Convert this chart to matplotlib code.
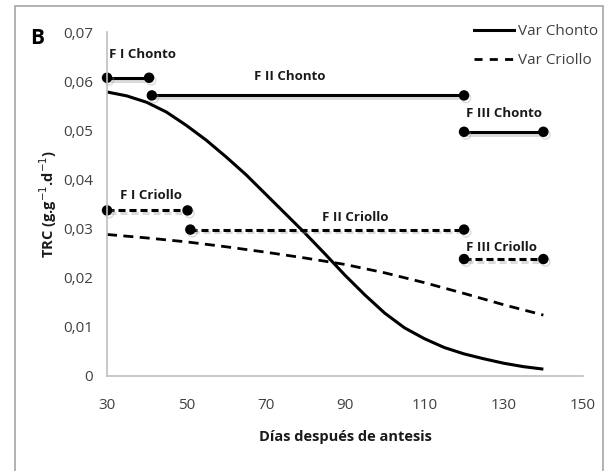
import matplotlib
matplotlib.use("Agg")
import matplotlib.pyplot as plt
import matplotlib.patheffects as pe
from matplotlib.lines import Line2D
from matplotlib.patches import Rectangle

# curves (days after anthesis vs TRC)
dias = [30, 35, 40, 45, 50, 55, 60, 65, 70, 75, 80, 85, 90, 95, 100,
        105, 110, 115, 120, 125, 130, 135, 140]
chonto = [0.0578, 0.0570, 0.0557, 0.0537, 0.0510, 0.0480, 0.0446, 0.0410,
          0.0370, 0.0330, 0.0290, 0.0248, 0.0205, 0.0165, 0.0128, 0.0098,
          0.0076, 0.0058, 0.0045, 0.0035, 0.0026, 0.0019, 0.0014]
dias_cr = [30, 40, 50, 60, 70, 80, 90, 100, 110, 120, 130, 140]
criollo = [0.0288, 0.0281, 0.0273, 0.0263, 0.0252, 0.0240, 0.0227, 0.0210,
           0.0190, 0.0168, 0.0145, 0.0124]

# phases: (label, start, end, y)
fases_chonto = [("F I Chonto", 30, 40.6, 0.0607),
                ("F II Chonto", 41.3, 120, 0.0571),
                ("F III Chonto", 120, 140, 0.0497)]
fases_criollo = [("F I Criollo", 30, 50.3, 0.0337),
                 ("F II Criollo", 51, 120, 0.0298),
                 ("F III Criollo", 120, 140, 0.0238)]
# label positions (x, y)
pos_chonto = [(39, 0.0655), (76, 0.0610), (130, 0.0535)]
pos_criollo = [(41, 0.0367), (92.5, 0.0323), (129.5, 0.0262)]

xticks = [30, 50, 70, 90, 110, 130, 150]
yticks = [0, 0.01, 0.02, 0.03, 0.04, 0.05, 0.06, 0.07]
ylabels = ["0", "0,01", "0,02", "0,03", "0,04", "0,05", "0,06", "0,07"]

fam = ["Open Sans", "DejaVu Sans"]
plt.rcParams["font.family"] = fam
grey = "#404040"

fig = plt.figure(figsize=(6.13, 4.71), dpi=100)
ax = fig.add_axes([0.1746, 0.2017, 0.7765, 0.7303])

fig.patches.append(Rectangle((15 / 613, -0.05), 588 / 613, 1.05 - 6 / 471,
                             transform=fig.transFigure, fill=False,
                             edgecolor="#a6a6a6", lw=1.2))

ax.plot(dias, chonto, color="black", lw=2.2, solid_capstyle="butt")
ax.plot(dias_cr, criollo, color="black", lw=2.0, dashes=(3.6, 2.3))

shadow = [pe.SimpleLineShadow(offset=(1.5, -2), shadow_color="#999999", alpha=0.35),
          pe.Normal()]

for (lab, x0, x1, y), (tx, ty) in zip(fases_chonto, pos_chonto):
    ax.plot([x0, x1], [y, y], color="black", lw=2.2, marker="o", ms=6.5,
            clip_on=False, path_effects=shadow)
    ax.text(tx, ty, lab, ha="center", va="center", fontsize=9.5, fontweight="bold",
            color="#1a1a1a")
for (lab, x0, x1, y), (tx, ty) in zip(fases_criollo, pos_criollo):
    ax.plot([x0, x1], [y, y], color="black", lw=2.2, marker="o", ms=6.5,
            dashes=(2.3, 1.3), clip_on=False, path_effects=shadow)
    ax.text(tx, ty, lab, ha="center", va="center", fontsize=9.5, fontweight="bold",
            color="#1a1a1a")

ax.set_xlim(30, 150)
ax.set_ylim(0, 0.07)
ax.set_xticks(xticks)
ax.set_yticks(yticks)
ax.set_yticklabels(ylabels)
ax.tick_params(length=0, labelsize=11, colors=grey)
ax.tick_params(axis="x", pad=16)
ax.tick_params(axis="y", pad=10)
for s in ["top", "right"]:
    ax.spines[s].set_visible(False)
for s in ["left", "bottom"]:
    ax.spines[s].set_color("#bfbfbf")
    ax.spines[s].set_linewidth(1.2)

ax.set_xlabel("Días después de antesis", fontsize=10.5, fontweight="bold",
              color="#1a1a1a", labelpad=12)
ax.set_ylabel("TRC (g.g$^{-1}$.d$^{-1}$)", fontsize=10.5, fontweight="bold",
              color="#1a1a1a", labelpad=3)

handles = [Line2D([], [], color="black", lw=2.2),
           Line2D([], [], color="black", lw=2.0, dashes=(2.9, 2.6))]
fig.legend(handles, ["Var Chonto", "Var Criollo"], loc="upper left",
           bbox_to_anchor=(468 / 613, 1 - 18 / 471), frameon=False,
           fontsize=11, handlelength=2.6, handletextpad=0.25, labelspacing=0.9,
           labelcolor=grey, borderaxespad=0)

fig.text(30 / 613, 1 - 38 / 471, "B", fontsize=15, fontweight="bold",
         va="center", ha="left")

fig.savefig("out.png", dpi=100)
